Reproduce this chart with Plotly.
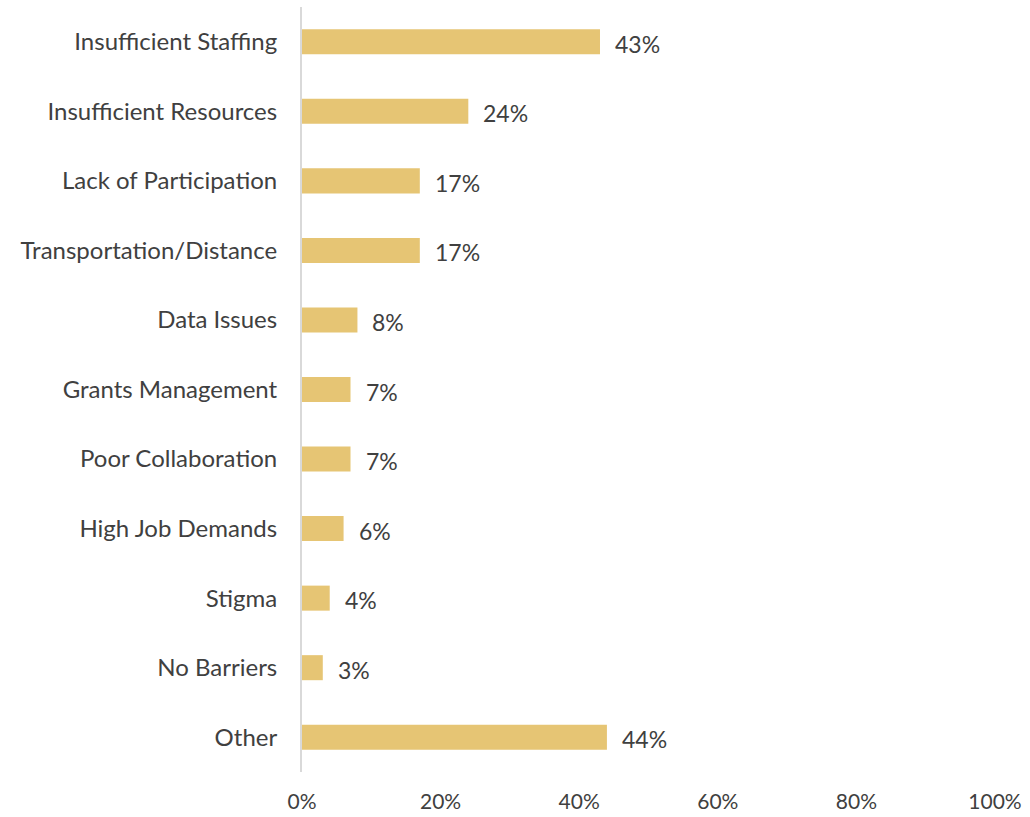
import plotly.graph_objects as go

# Reported barriers, share of respondents (%)
categories = [
    "Insufficient Staffing",
    "Insufficient Resources",
    "Lack of Participation",
    "Transportation/Distance",
    "Data Issues",
    "Grants Management",
    "Poor Collaboration",
    "High Job Demands",
    "Stigma",
    "No Barriers",
    "Other",
]
values = [43, 24, 17, 17, 8, 7, 7, 6, 4, 3, 44]
tick_values = [0, 20, 40, 60, 80, 100]
tick_labels = ["0%", "20%", "40%", "60%", "80%", "100%"]

BAR_COLOR = "#E6C574"
TEXT_COLOR = "#404040"
FONT = "Lato"

fig = go.Figure(
    go.Bar(
        x=values,
        y=categories,
        orientation="h",
        marker=dict(color=BAR_COLOR, line=dict(width=0)),
        hoverinfo="skip",
    )
)

# Value labels just past the end of each bar
for cat, val in zip(categories, values):
    fig.add_annotation(
        x=val, y=cat, text=f"{val}%", showarrow=False,
        xanchor="left", xshift=13, yshift=-2,
        font=dict(family=FONT, size=23, color=TEXT_COLOR),
    )

fig.update_layout(
    width=1030, height=817,
    margin=dict(l=302, r=35, t=7, b=45, autoexpand=False),
    paper_bgcolor="white", plot_bgcolor="white",
    bargap=0.64,
    showlegend=False,
    font=dict(family=FONT, size=22, color=TEXT_COLOR),
)
fig.update_xaxes(
    range=[0, 100], tickvals=tick_values, ticktext=tick_labels,
    showgrid=False, zeroline=False, showline=False, ticks="",
    ticklabelstandoff=15, automargin=False,
    tickfont=dict(family=FONT, size=21, color=TEXT_COLOR),
)
fig.update_yaxes(
    categoryorder="array", categoryarray=categories[::-1],
    showgrid=False, zeroline=False,
    showline=True, linecolor="#D9D9D9", linewidth=2,
    ticks="", ticklabelstandoff=18, automargin=False,
    tickfont=dict(family=FONT, size=24, color=TEXT_COLOR),
)

fig.write_html("out.html")
